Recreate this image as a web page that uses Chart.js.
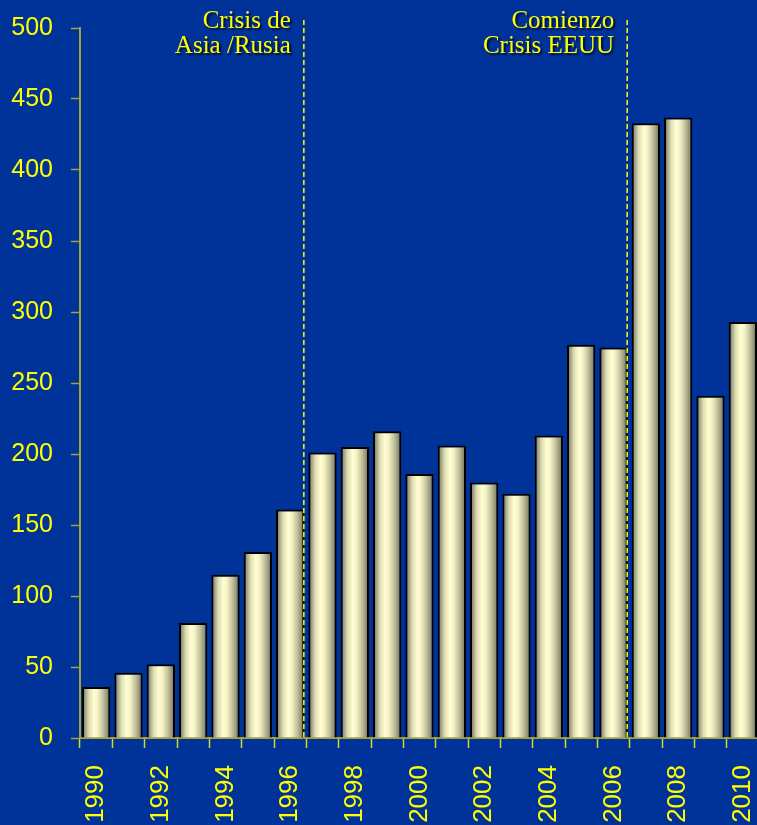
<!DOCTYPE html>
<html>
<head>
<meta charset="utf-8">
<script src="https://cdn.jsdelivr.net/npm/chart.js@4/dist/chart.umd.min.js"></script>
<style>
    html, body {
        margin: 0;
        padding: 0;
        overflow: hidden;
        background: #003399;
    }
    #chart {
        display: block;
    }
</style>
</head>
<body>
<canvas id="chart" width="759" height="825"></canvas>
<script>
// Years on the category axis
const years = ['1990', '1991', '1992', '1993', '1994', '1995', '1996', '1997', '1998', '1999', '2000',
    '2001', '2002', '2003', '2004', '2005', '2006', '2007', '2008', '2009', '2010'];

// Yearly values
const values = [36, 46, 52, 81, 115, 131, 161, 201, 205, 216, 186,
    206, 180, 172, 213, 277, 275, 433, 437, 241, 293];

// Event markers: the dashed line goes right after the given year
const eventYears = ['1996', '2006'];
const eventLabels = [
    ['Crisis de', 'Asia /Rusia'],
    ['Comienzo', 'Crisis EEUU']
];

const yTicks = [0, 50, 100, 150, 200, 250, 300, 350, 400, 450, 500];

const YELLOW = '#ffff00';
const AXIS_OLIVE = '#a3a33a';
const BAR_PCT = 0.875;

// Cylinder-like shading across each bar
function barGradient(context) {
    const chart = context.chart;
    const xScale = chart.scales.x;
    if (!chart.chartArea || !xScale) return '#f6f4c6';
    const step = xScale.width / years.length;
    const cx = xScale.getPixelForValue(context.dataIndex);
    const half = step * BAR_PCT / 2;
    const g = chart.ctx.createLinearGradient(cx - half, 0, cx + half, 0);
    g.addColorStop(0, '#5f5f48');
    g.addColorStop(0.1, '#9a9a7c');
    g.addColorStop(0.25, '#e0dfb4');
    g.addColorStop(0.42, '#fffed2');
    g.addColorStop(0.55, '#f6f4c6');
    g.addColorStop(0.75, '#c2c09c');
    g.addColorStop(0.9, '#8f8e72');
    g.addColorStop(1, '#6a6a54');
    return g;
}

// Dashed event lines with their captions
const eventLines = {
    id: 'eventLines',
    afterDatasetsDraw(chart) {
        const { ctx, chartArea, scales } = chart;
        const x = scales.x;
        eventYears.forEach((yr, i) => {
            const idx = years.indexOf(yr);
            const px = (x.getPixelForValue(idx) + x.getPixelForValue(idx + 1)) / 2 - 2.5;

            ctx.save();
            ctx.strokeStyle = YELLOW;
            ctx.lineWidth = 1.5;
            ctx.setLineDash([5, 3]);
            ctx.beginPath();
            ctx.moveTo(px, chartArea.top - 8);
            ctx.lineTo(px, chartArea.bottom + 2);
            ctx.stroke();
            ctx.restore();

            ctx.save();
            ctx.font = '25px "Liberation Serif", "Times New Roman", serif';
            ctx.textAlign = 'right';
            ctx.textBaseline = 'alphabetic';
            ctx.fillStyle = YELLOW;
            ctx.shadowColor = 'rgba(0, 0, 30, 0.85)';
            ctx.shadowOffsetX = 2;
            ctx.shadowOffsetY = 2;
            ctx.shadowBlur = 2;
            eventLabels[i].forEach((line, j) => {
                ctx.fillText(line, px - 13, 28 + j * 25);
            });
            ctx.restore();
        });
    }
};

const config = {
    type: 'bar',
    data: {
        labels: years,
        datasets: [{
            data: values,
            backgroundColor: barGradient,
            borderColor: '#000000',
            borderWidth: 2,
            barPercentage: BAR_PCT,
            categoryPercentage: 1.0
        }]
    },
    options: {
        responsive: false,
        animation: false,
        layout: {
            padding: { top: 28, right: 0, left: 0, bottom: 0 }
        },
        plugins: {
            legend: { display: false },
            tooltip: { enabled: false }
        },
        scales: {
            x: {
                offset: true,
                grid: {
                    display: true,
                    offset: true,
                    drawOnChartArea: false,
                    drawTicks: true,
                    tickLength: 10,
                    tickWidth: 1.5,
                    color: '#d6d630'
                },
                border: {
                    color: AXIS_OLIVE,
                    width: 2
                },
                ticks: {
                    autoSkip: false,
                    minRotation: 90,
                    maxRotation: 90,
                    padding: 17,
                    color: YELLOW,
                    font: { family: '"Liberation Sans", Arial, sans-serif', size: 26 },
                    callback: function (value, index) {
                        return index % 2 === 0 ? years[index] : '';
                    }
                },
                afterFit(scale) {
                    scale.height = 87;
                    scale.paddingLeft = 0;
                    scale.paddingRight = 0;
                }
            },
            y: {
                min: 0,
                max: 500,
                afterBuildTicks(scale) {
                    scale.ticks = yTicks.map(v => ({ value: v }));
                },
                grid: {
                    display: true,
                    drawOnChartArea: false,
                    drawTicks: true,
                    tickLength: 9,
                    tickWidth: 1.5,
                    color: AXIS_OLIVE
                },
                border: {
                    color: AXIS_OLIVE,
                    width: 2
                },
                ticks: {
                    padding: 18,
                    color: YELLOW,
                    font: { family: '"Liberation Sans", Arial, sans-serif', size: 25 }
                },
                afterFit(scale) {
                    scale.width = 80;
                    scale.paddingTop = 0;
                    scale.paddingBottom = 0;
                }
            }
        }
    },
    plugins: [eventLines]
};

new Chart(document.getElementById('chart'), config);
</script>
</body>
</html>
